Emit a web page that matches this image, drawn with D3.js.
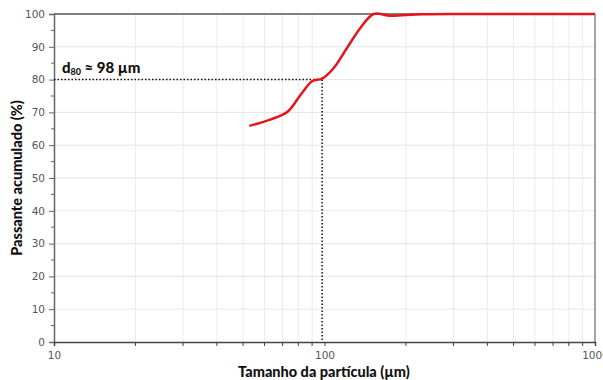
<!DOCTYPE html>
<html><head><meta charset="utf-8">
<script src="https://cdn.jsdelivr.net/npm/d3@7"></script>
<style>body{margin:0;background:#fff}svg{display:block}</style>
</head><body>
<svg id="c" width="603" height="380"></svg>
<script>
const sizes   = [52.7, 63, 73, 82, 90, 98, 107.8, 120.8, 135.3, 152, 175, 230, 400, 1000];
const passing = [65.9, 67.8, 70.2, 75.6, 79.5, 80.3, 83.4, 89.5, 95.6, 100, 99.5, 99.95, 100, 100];
const yTicks = [0,10,20,30,40,50,60,70,80,90,100];
const xTickLabels = [10, 100, 1000];
const d80 = 98;

const svg = d3.select("#c");
const m = {l:54, r:595, t:14, b:342};
const x = d3.scaleLog().domain([10,1000]).range([m.l, m.r]);
const y = d3.scaleLinear().domain([0,100]).range([m.b, m.t]);

const minorX = [];
for (let dec of [10,100]) for (let k=2;k<=9;k++) minorX.push(dec*k);

const g = svg.append("g");
// grid
g.selectAll(".gx").data(minorX).join("line")
  .attr("x1",d=>x(d)).attr("x2",d=>x(d)).attr("y1",m.t).attr("y2",m.b)
  .attr("stroke","#ececec").attr("stroke-width",1);
g.selectAll(".gy").data(yTicks.slice(1,-1)).join("line")
  .attr("x1",m.l).attr("x2",m.r).attr("y1",d=>y(d)).attr("y2",d=>y(d))
  .attr("stroke","#e4e4e4").attr("stroke-width",1);

// frame top/right
g.append("line").attr("x1",m.l).attr("x2",m.r).attr("y1",m.t).attr("y2",m.t).attr("stroke","#555").attr("stroke-width",1.5);
g.append("line").attr("x1",m.r).attr("x2",m.r).attr("y1",m.t).attr("y2",m.b).attr("stroke","#888").attr("stroke-width",1.5);

// y axis
const ya = g.append("g").attr("transform",`translate(${m.l},0)`)
  .call(d3.axisLeft(y).tickValues(yTicks).tickSize(5).tickPadding(4));
ya.select(".domain").attr("stroke","#666").attr("stroke-width",1.5);
ya.selectAll(".tick line").attr("stroke","#666");
ya.selectAll("text").attr("fill","#555").style("font-family","DejaVu Sans").style("font-size","10.5px");
g.selectAll(".ym").data(d3.range(5,100,10)).join("line")
  .attr("x1",m.l-3).attr("x2",m.l).attr("y1",d=>y(d)).attr("y2",d=>y(d)).attr("stroke","#666");

// x axis
const xa = g.append("g").attr("transform",`translate(0,${m.b})`)
  .call(d3.axisBottom(x).tickValues(xTickLabels).tickFormat(d3.format("d")).tickSize(4).tickPadding(6));
xa.select(".domain").attr("stroke","#444").attr("stroke-width",1.5);
xa.selectAll(".tick line").attr("stroke","#444");
xa.selectAll("text").attr("fill","#555").style("font-family","DejaVu Sans").style("font-size","10.5px");
g.selectAll(".xm").data(minorX).join("line")
  .attr("x1",d=>x(d)).attr("x2",d=>x(d)).attr("y1",m.b).attr("y2",m.b+4).attr("stroke","#444");

// dotted d80 guides
g.append("line").attr("x1",m.l).attr("x2",x(d80)).attr("y1",y(80)).attr("y2",y(80))
  .attr("stroke","#111").attr("stroke-width",1.5).attr("stroke-dasharray","1.5,2");
g.append("line").attr("x1",x(d80)).attr("x2",x(d80)).attr("y1",y(80)).attr("y2",m.b)
  .attr("stroke","#111").attr("stroke-width",1.5).attr("stroke-dasharray","1.5,2");

// curve
const line = d3.line().x((d,i)=>x(sizes[i])).y((d,i)=>y(passing[i])).curve(d3.curveCatmullRom.alpha(0.5));
g.append("path").datum(passing).attr("d",line).attr("fill","none")
  .attr("stroke","#e8141c").attr("stroke-width",2.5);

// annotation
const t = g.append("text").attr("x",62).attr("y",73)
  .style("font-family","Lato, 'Open Sans', sans-serif").style("font-weight","900").style("font-size","15px").attr("fill","#111");
t.append("tspan").text("d");
t.append("tspan").text("80").style("font-size","9px").attr("dy",2);
t.append("tspan").text(" ≈ 98 µm").attr("dy",-2);

// axis titles
svg.append("text").attr("x",324).attr("y",377).attr("text-anchor","middle")
  .style("font-family","Lato, 'Open Sans', sans-serif").style("font-weight","900").style("font-size","14.5px").attr("fill","#111")
  .text("Tamanho da partícula (µm)");
svg.append("text").attr("transform",`translate(22,${(m.t+m.b)/2}) rotate(-90)`).attr("text-anchor","middle")
  .style("font-family","Lato, 'Open Sans', sans-serif").style("font-weight","900").style("font-size","14.5px").attr("fill","#111")
  .text("Passante acumulado (%)");
</script>
</body></html>
